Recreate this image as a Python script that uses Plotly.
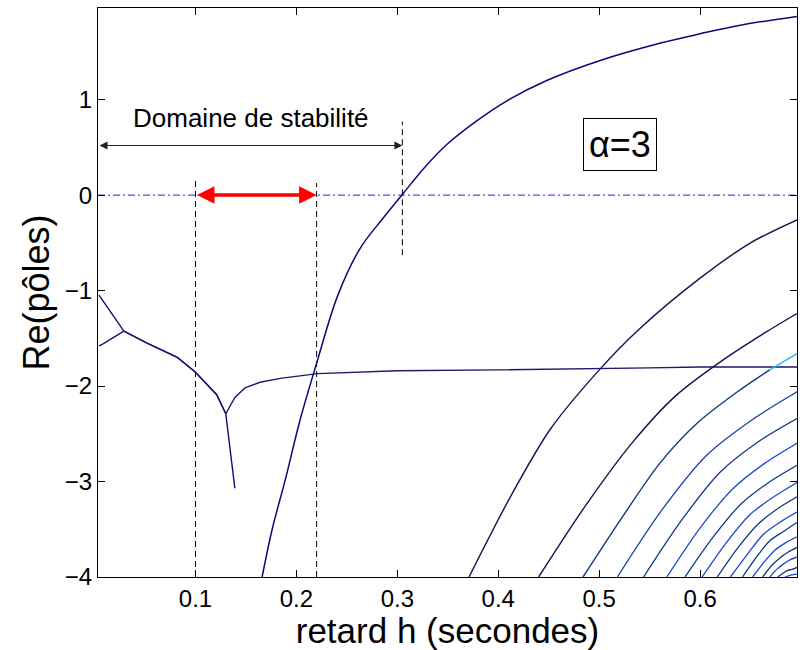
import plotly.graph_objects as go

# ---- data ----
A_x = [0.166, 0.176, 0.189, 0.2035, 0.2195, 0.241, 0.263, 0.286, 0.306, 0.327, 0.349, 0.379, 0.409, 0.448, 0.501, 0.560, 0.600, 0.640, 0.696]
A_y = [-4.0, -3.5, -2.98, -2.36, -1.78, -1.05, -0.56, -0.24, 0.02, 0.29, 0.53, 0.78, 0.99, 1.20, 1.41, 1.59, 1.69, 1.78, 1.87]

B1_x = [0.0044, 0.029, 0.052, 0.082, 0.0995, 0.121, 0.130, 0.139]
B1_y = [-1.047, -1.424, -1.55, -1.70, -1.85, -2.09, -2.29, -3.07]
B2_x = [0.0044, 0.008, 0.029, 0.052, 0.082, 0.0995, 0.121, 0.130, 0.139, 0.149, 0.164, 0.184, 0.221, 0.30, 0.40, 0.50, 0.55, 0.60, 0.696]
B2_y = [-1.58, -1.56, -1.424, -1.55, -1.70, -1.85, -2.09, -2.29, -2.12, -2.02, -1.96, -1.92, -1.87, -1.84, -1.83, -1.82, -1.81, -1.80, -1.80]

C_x = [0.371, 0.412, 0.451, 0.501, 0.539, 0.600, 0.650, 0.696]
C_y = [-4.0, -3.16, -2.46, -1.82, -1.41, -0.87, -0.50, -0.26]
D_x = [0.440, 0.486, 0.533, 0.576, 0.625, 0.666, 0.696]
D_y = [-4.0, -3.26, -2.59, -2.10, -1.71, -1.43, -1.24]
E_x = [0.484, 0.523, 0.560, 0.597, 0.637, 0.669]
E_y = [-4.0, -3.37, -2.81, -2.39, -2.06, -1.83]
E_tail_x = [0.669, 0.696]
E_tail_y = [-1.83, -1.66]

family = [
    ([0.518, 0.562, 0.607, 0.652, 0.696], [-4.0, -3.30, -2.72, -2.35, -2.06]),
    ([0.544, 0.582, 0.620, 0.658, 0.696], [-4.0, -3.40, -2.90, -2.58, -2.34]),
    ([0.567, 0.599, 0.632, 0.664, 0.696], [-4.0, -3.50, -3.08, -2.81, -2.60]),
    ([0.585, 0.613, 0.641, 0.668, 0.696], [-4.0, -3.58, -3.23, -3.01, -2.83]),
    ([0.602, 0.626, 0.649, 0.673, 0.696], [-4.0, -3.64, -3.35, -3.16, -3.01]),
    ([0.617, 0.637, 0.657, 0.676, 0.696], [-4.0, -3.70, -3.45, -3.29, -3.16]),
    ([0.630, 0.647, 0.663, 0.680, 0.696], [-4.0, -3.76, -3.55, -3.42, -3.32]),
    ([0.642, 0.656, 0.669, 0.683, 0.696], [-4.0, -3.79, -3.62, -3.52, -3.43]),
    ([0.652, 0.663, 0.674, 0.685, 0.696], [-4.0, -3.85, -3.72, -3.64, -3.58]),
    ([0.662, 0.670, 0.679, 0.687, 0.696], [-4.0, -3.89, -3.80, -3.74, -3.69]),
    ([0.669, 0.676, 0.683, 0.689, 0.696], [-4.0, -3.92, -3.86, -3.82, -3.79]),
    ([0.677, 0.682, 0.687, 0.691, 0.696], [-4.0, -3.96, -3.93, -3.92, -3.90]),
    ([0.684, 0.690, 0.696], [-4.0, -3.98, -3.97]),
]
family_colors = ["#1a3fb0", "#0f3a80", "#1a48d0", "#0f3a80", "#1a48d0", "#0f3a80",
                 "#1a48d0", "#0f3a80", "#1a48d0", "#0f3a80", "#1a48d0", "#0f3a80", "#1a48d0"]

x_ticks = [0.1, 0.2, 0.3, 0.4, 0.5, 0.6]
x_ticktext = ["0.1", "0.2", "0.3", "0.4", "0.5", "0.6"]
y_ticks = [-4, -3, -2, -1, 0, 1]
y_ticktext = ["\u22124", "\u22123", "\u22122", "\u22121", "0", "1"]

x_range = [0.0034, 0.696]
y_range = [-4.0, 1.96]

dash_x = [0.1, 0.22, 0.305]
dash_ybot = [-4.0, -4.0, -0.63]
dash_ytop = [0.157, 0.126, 0.77]

stab_left, stab_right, stab_y = 0.0034, 0.305, 0.52
red_left, red_right = 0.1, 0.22

FONT = "Liberation Sans, Arial, Helvetica, sans-serif"

fig = go.Figure()

# zero line
fig.add_trace(go.Scatter(x=x_range, y=[0, 0], mode="lines",
                         line=dict(color="#2020ff", width=1, dash="7px,3px,2px,3px"),
                         hoverinfo="skip"))
# vertical dashed lines
for xv, yb, yt in zip(dash_x, dash_ybot, dash_ytop):
    fig.add_trace(go.Scatter(x=[xv, xv], y=[yb, yt], mode="lines",
                             line=dict(color="black", width=1, dash="6px,4px"),
                             hoverinfo="skip"))

navy = "#0a0a78"
fig.add_trace(go.Scatter(x=B1_x, y=B1_y, mode="lines", line=dict(color=navy, width=1.4)))
fig.add_trace(go.Scatter(x=B2_x, y=B2_y, mode="lines", line=dict(color="#1a1a70", width=1.4)))
fig.add_trace(go.Scatter(x=A_x, y=A_y, mode="lines", line=dict(color=navy, width=1.5, shape="spline", smoothing=1.0)))
fig.add_trace(go.Scatter(x=C_x, y=C_y, mode="lines", line=dict(color="#1a1050", width=1.4, shape="spline", smoothing=0.8)))
fig.add_trace(go.Scatter(x=D_x, y=D_y, mode="lines", line=dict(color="#1a1050", width=1.4, shape="spline", smoothing=0.8)))
fig.add_trace(go.Scatter(x=E_x, y=E_y, mode="lines", line=dict(color="#0f3a80", width=1.4, shape="spline", smoothing=0.8)))
fig.add_trace(go.Scatter(x=E_tail_x, y=E_tail_y, mode="lines", line=dict(color="#20c0e8", width=1.4)))
for (fx, fy), c in zip(family, family_colors):
    fig.add_trace(go.Scatter(x=fx, y=fy, mode="lines", line=dict(color=c, width=1.3, shape="spline", smoothing=0.8)))

annotations = [
    dict(x=stab_right, y=stab_y, ax=stab_left, ay=stab_y, xref="x", yref="y",
         axref="x", ayref="y", text="", showarrow=True, arrowhead=2, arrowside="end+start",
         arrowsize=1.6, arrowwidth=1, arrowcolor="#222222", standoff=0, startstandoff=0),
    dict(x=0.155, y=0.81, xref="x", yref="y", text="Domaine de stabilité", showarrow=False,
         font=dict(family=FONT, size=26, color="black")),
    dict(x=red_right, y=0, ax=red_left, ay=0, xref="x", yref="y",
         axref="x", ayref="y", text="", showarrow=True, arrowhead=2, arrowside="end+start",
         arrowsize=1.0, arrowwidth=3.5, arrowcolor="#ff0000", standoff=0, startstandoff=0),
    dict(x=0.521, y=0.534, xref="x", yref="y", text="α=3", showarrow=False,
         font=dict(family=FONT, size=36, color="black"),
         bordercolor="black", borderwidth=1, borderpad=5, bgcolor="white"),
]

axis_common = dict(showgrid=False, zeroline=False, showline=True, linecolor="black", linewidth=1,
                   mirror="ticks", ticks="inside", ticklen=7, tickcolor="black",
                   tickfont=dict(family=FONT, size=24, color="black"))

fig.update_layout(
    width=802, height=650,
    margin=dict(l=98, r=5, t=8, b=73),
    paper_bgcolor="white", plot_bgcolor="white",
    showlegend=False,
    annotations=annotations,
    xaxis=dict(range=x_range, tickvals=x_ticks, ticktext=x_ticktext,
               title=dict(text="retard h (secondes)", font=dict(family=FONT, size=35, color="black"), standoff=3),
               **axis_common),
    yaxis=dict(range=y_range, tickvals=y_ticks, ticktext=y_ticktext,
               title=dict(text="Re(pôles)", font=dict(family=FONT, size=36, color="black"), standoff=4),
               **axis_common),
)

fig.write_html("out.html")
